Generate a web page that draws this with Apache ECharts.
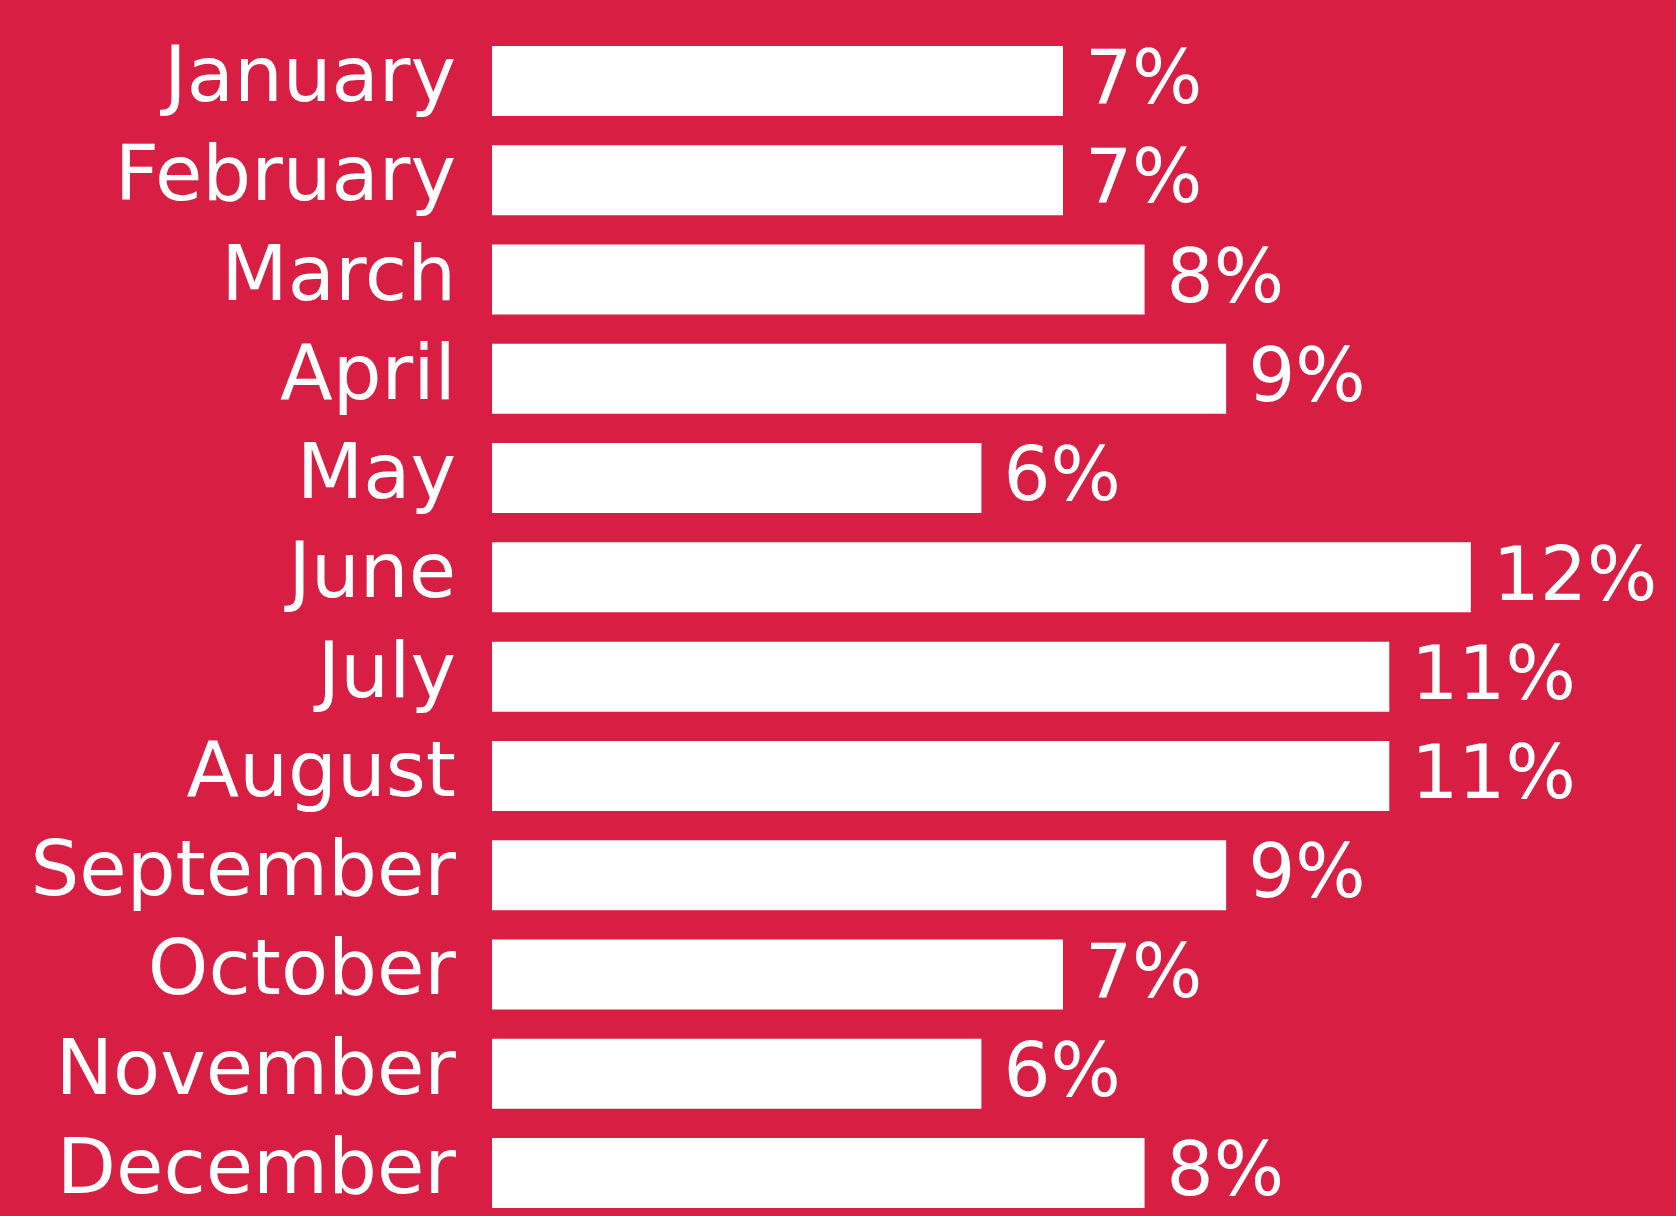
<!DOCTYPE html>
<html>
<head>
<meta charset="utf-8">
<title>Monthly share</title>
<script src="https://cdn.jsdelivr.net/npm/echarts@6.0.0/dist/echarts.min.js"></script>
<style>
    html, body { margin: 0; padding: 0; background: #d81e42; overflow: hidden; }
    #monthChart { width: 1676px; height: 1216px; }
</style>
</head>
<body>
<div id="monthChart"></div>
<script>
var months = ['January', 'February', 'March', 'April', 'May', 'June', 'July', 'August', 'September', 'October', 'November', 'December'];
var shareValues = [7, 7, 8, 9, 6, 12, 11, 11, 9, 7, 6, 8]; // percent

var chart = echarts.init(document.getElementById('monthChart'));

var option = {
    backgroundColor: '#d81e42',
    animation: false,
    grid: {
        left: 492,
        top: 81,       // centre of first bar
        width: 1142,
        height: 1092   // centre of first bar -> centre of last bar
    },
    xAxis: {
        type: 'value',
        min: 0,
        max: 14,
        show: false
    },
    yAxis: {
        type: 'category',
        data: months,
        inverse: true, // January on top
        boundaryGap: false,
        axisLine: { show: false },
        axisTick: { show: false },
        splitLine: { show: false },
        axisLabel: {
            interval: 0, // show every month
            color: '#ffffff',
            fontFamily: 'DejaVu Sans',
            fontSize: 77,
            margin: 36
        }
    },
    series: [{
        type: 'bar',
        data: shareValues,
        barWidth: 70,
        itemStyle: {
            color: '#ffffff'
        },
        label: {
            show: true,
            position: 'right',
            distance: 22,
            offset: [0, 3],
            formatter: '{c}%',
            color: '#ffffff',
            fontFamily: 'DejaVu Sans',
            fontSize: 74
        }
    }]
};

chart.setOption(option);
</script>
</body>
</html>
